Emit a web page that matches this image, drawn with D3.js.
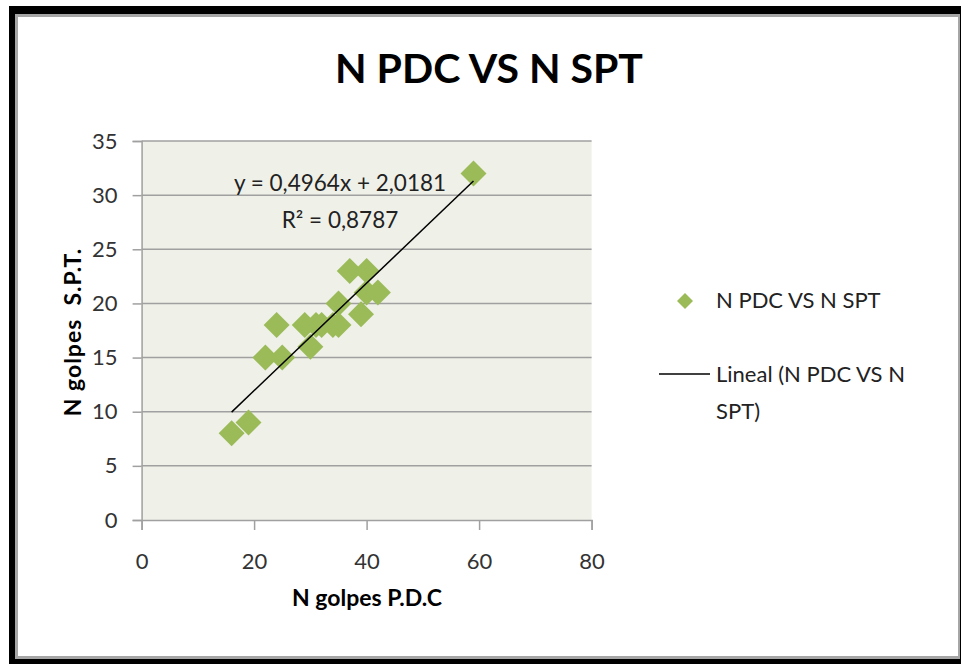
<!DOCTYPE html>
<html>
<head>
<meta charset="utf-8">
<script src="https://cdn.jsdelivr.net/npm/d3@7"></script>
<style>
    body { margin: 0; background: #fff; }
    .axis text { font-family: Lato, "Open Sans", sans-serif; font-size: 22px; fill: #333; }
    .axis path, .axis line { stroke: #a0a0a0; stroke-width: 1.5; }
</style>
</head>
<body>
<div id="chart"></div>
<script>
// data
let pdcValues = [16, 19, 22, 25, 24, 29, 30, 31, 32, 34, 35, 35, 37, 40, 39, 40, 42, 59];
let sptValues = [8, 9, 15, 15, 18, 18, 16, 18, 18, 18, 18, 20, 23, 23, 19, 21, 21, 32];
let xTicks = [0, 20, 40, 60, 80];
let yTicks = [0, 5, 10, 15, 20, 25, 30, 35];
let slope = 0.4964;
let intercept = 2.0181;
let eqLabels = ["y = 0,4964x + 2,0181", "R² = 0,8787"];

let points = pdcValues.map((d, i) => ({x: d, y: sptValues[i]}));

let width = 961, height = 664;
let plot = {left: 141.6, right: 591.6, top: 141, bottom: 520};
let font = "Lato, 'Open Sans', sans-serif";

let svg = d3.select("#chart").append("svg")
    .attr("width", width)
    .attr("height", height);

// frame: black outer, gray inner line, white body
svg.append("rect").attr("x", 9).attr("y", 6).attr("width", 960).attr("height", 660).attr("fill", "#000");
svg.append("rect").attr("x", 15).attr("y", 14).attr("width", 945).attr("height", 645).attr("fill", "#a6a6a6");
svg.append("rect").attr("x", 18).attr("y", 17).attr("width", 940).attr("height", 639).attr("fill", "#fff");

// title
svg.append("text")
    .text("N PDC VS N SPT")
    .attr("x", 489)
    .attr("y", 83)
    .attr("text-anchor", "middle")
    .attr("font-family", font)
    .attr("font-weight", "bold")
    .attr("font-size", 41)
    .attr("fill", "#000");

// scales
let x = d3.scaleLinear().domain([0, 80]).range([plot.left, plot.right]);
let y = d3.scaleLinear().domain([0, 35]).range([plot.bottom, plot.top]);

// plot background
svg.append("rect")
    .attr("x", x(0))
    .attr("y", y(35))
    .attr("width", x(80) - x(0))
    .attr("height", y(0) - y(35))
    .attr("fill", "#eff1e9");

// gridlines
svg.append("g")
    .selectAll("line")
    .data(yTicks.filter(d => d > 0))
    .enter().append("line")
    .attr("x1", x(0))
    .attr("x2", x(80))
    .attr("y1", d => y(d))
    .attr("y2", d => y(d))
    .attr("stroke", "#a0a0a0")
    .attr("stroke-width", 1.5);

// axes
let xAxis = d3.axisBottom(x).tickValues(xTicks).tickSize(10).tickPadding(23).tickSizeOuter(10);
let yAxis = d3.axisLeft(y).tickValues(yTicks).tickSize(9).tickPadding(15).tickSizeOuter(9);

svg.append("g")
    .attr("class", "axis")
    .attr("transform", "translate(0," + y(0) + ")")
    .call(xAxis);

svg.append("g")
    .attr("class", "axis")
    .attr("transform", "translate(" + x(0) + ",0)")
    .call(yAxis);

// axis titles
svg.append("text")
    .text("N golpes P.D.C")
    .attr("x", 367)
    .attr("y", 606)
    .attr("text-anchor", "middle")
    .attr("font-family", font)
    .attr("font-weight", "bold")
    .attr("font-size", 23)
    .attr("fill", "#000");

svg.append("text")
    .text("N golpes  S.P.T.")
    .attr("transform", "translate(81,332) rotate(-90)")
    .attr("text-anchor", "middle")
    .style("white-space", "pre")
    .attr("font-family", font)
    .attr("font-weight", "bold")
    .attr("font-size", 23)
    .attr("letter-spacing", 1)
    .attr("fill", "#000");

// points
let diamond = (cx, cy, r) => "M" + cx + "," + (cy - r) + "L" + (cx + r) + "," + cy +
    "L" + cx + "," + (cy + r) + "L" + (cx - r) + "," + cy + "Z";

svg.append("g")
    .selectAll("path")
    .data(points)
    .enter().append("path")
    .attr("d", d => diamond(x(d.x), y(d.y), 13))
    .attr("fill", "#9bbb59");

// linear trend
let xMin = d3.min(pdcValues), xMax = d3.max(pdcValues);
let trend = [xMin, xMax].map(v => ({x: v, y: slope * v + intercept}));
svg.append("path")
    .datum(trend)
    .attr("d", d3.line().x(d => x(d.x)).y(d => y(d.y)))
    .attr("stroke", "#000")
    .attr("stroke-width", 1.5)
    .attr("fill", "none");

// equation labels
svg.append("g")
    .selectAll("text")
    .data(eqLabels)
    .enter().append("text")
    .text(d => d)
    .attr("x", 340)
    .attr("y", (d, i) => 191 + i * 37)
    .attr("text-anchor", "middle")
    .attr("font-family", font)
    .attr("font-size", 22.5)
    .attr("fill", "#222");

// legend
let legend = svg.append("g").attr("font-family", font).attr("font-size", 22).attr("fill", "#222");
legend.append("path").attr("d", diamond(685, 301, 8)).attr("fill", "#9bbb59");
legend.append("text").text("N PDC VS N SPT").attr("x", 716).attr("y", 308);
legend.append("line").attr("x1", 659).attr("x2", 710).attr("y1", 374).attr("y2", 374)
    .attr("stroke", "#000").attr("stroke-width", 1.5);
legend.append("text").text("Lineal (N PDC VS N").attr("x", 716).attr("y", 382);
legend.append("text").text("SPT)").attr("x", 716).attr("y", 419);
</script>
</body>
</html>
